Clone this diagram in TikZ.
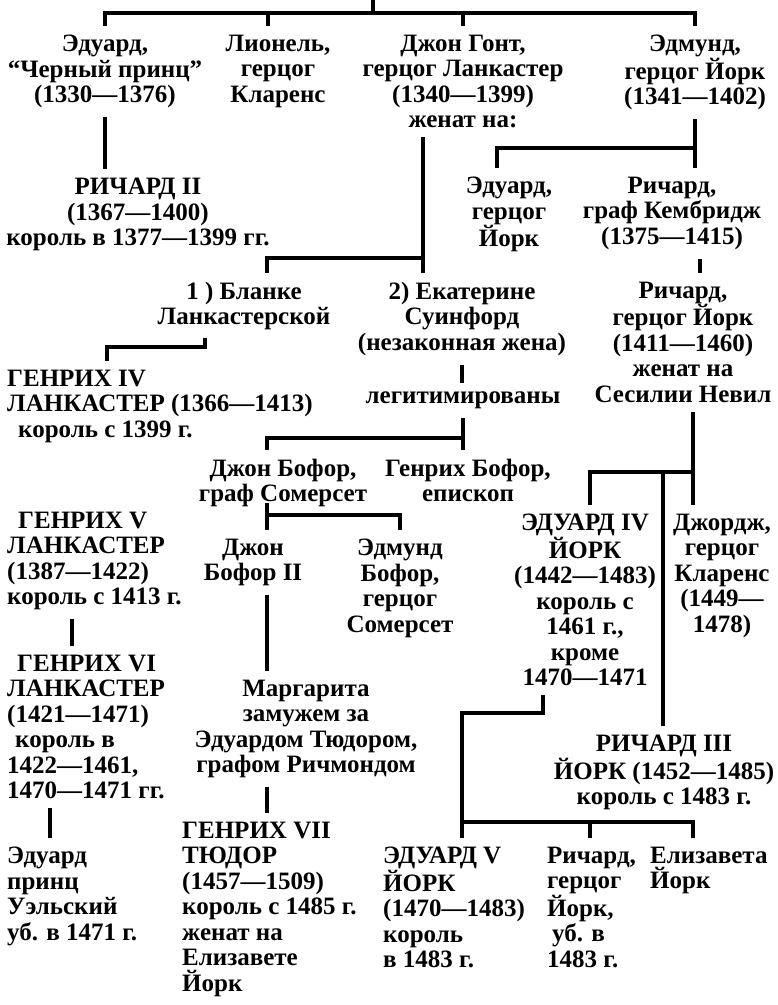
\documentclass[tikz,border=0pt]{standalone}
\usepackage{fontspec}
\setmainfont{Liberation Serif}
\begin{document}
\begin{tikzpicture}[x=1pt, y=-1pt,
    person/.style={inner sep=0pt, outer ysep=9pt, anchor=north, align=center,
        font=\fontsize{25}{25.5}\selectfont\bfseries},
    lperson/.style={person, anchor=north west, align=left},
    tree/.style={line width=3.2pt}]
    \useasboundingbox (0,0) rectangle (778,1005);

    \node[person] (edward) at (105, 26) {Эдуард,\\“Черный принц”\\(1330—1376)};
    \node[person] (lionel) at (278, 26) {Лионель,\\герцог\\Кларенс};
    \node[person] (gaunt) at (463, 26) {Джон Гонт,\\герцог Ланкастер\\(1340—1399)\\женат на:};
    \node[person] (edmund) at (695, 26) {Эдмунд,\\герцог Йорк\\(1341—1402)};
    \node[person] (richard2) at (138, 169) {РИЧАРД II\\(1367—1400)\\король в 1377—1399 гг.};
    \node[person] (edwardy) at (509, 168) {Эдуард,\\герцог\\Йорк};
    \node[person] (richcam) at (672, 168) {Ричард,\\граф Кембридж\\(1375—1415)};
    \node[person] (blanche) at (244, 273) {1 ) Бланке\\Ланкастерской};
    \node[person] (katherine) at (462, 273) {2) Екатерине\\Суинфорд\\(незаконная жена)};
    \node[person] (richyork) at (683, 273) {Ричард,\\герцог Йорк\\(1411—1460)\\женат на\\Сесилии Невил};
    \node[lperson] (henry4) at (7, 361) {ГЕНРИХ IV\\ЛАНКАСТЕР (1366—1413)\\\hspace*{11pt}король с 1399 г.};
    \node[person] (legit) at (463, 383) {легитимированы};
    \node[person] (johnbeaufort) at (283, 450) {Джон Бофор,\\граф Сомерсет};
    \node[person] (henrybeaufort) at (468, 450) {Генрих Бофор,\\епископ};
    \node[lperson] (henry5) at (7, 503) {\hspace*{11pt}ГЕНРИХ V\\ЛАНКАСТЕР\\(1387—1422)\\король с 1413 г.};
    \node[person] (edward4) at (585, 505) {ЭДУАРД IV\\ЙОРК\\(1442—1483)\\король с\\1461 г.,\\кроме\\1470—1471};
    \node[person] (george) at (722, 505) {Джордж,\\герцог\\Кларенс\\(1449—\\1478)};
    \node[person] (johnb2) at (253, 530) {Джон\\Бофор II};
    \node[person] (edmundb) at (400, 530) {Эдмунд\\Бофор,\\герцог\\Сомерсет};
    \node[lperson] (henry6) at (7, 646) {\hspace*{10pt}ГЕНРИХ VI\\ЛАНКАСТЕР\\(1421—1471)\\\hspace*{8pt}король в\\1422—1461,\\1470—1471 гг.};
    \node[person] (margaret) at (306, 671) {Маргарита\\замужем за\\Эдуардом Тюдором,\\графом Ричмондом};
    \node[person] (richard3) at (664, 726) {РИЧАРД III\\ЙОРК (1452—1485)\\король с 1483 г.};
    \node[lperson] (henry7) at (182, 813) {ГЕНРИХ VII\\ТЮДОР\\(1457—1509)\\король с 1485 г.\\женат на\\Елизавете\\Йорк};
    \node[lperson] (edwardprince) at (7, 838) {Эдуард\\принц\\Уэльский\\уб. в 1471 г.};
    \node[lperson] (edward5) at (383, 838) {ЭДУАРД V\\ЙОРК\\(1470—1483)\\король\\в 1483 г.};
    \node[lperson] (richshrew) at (547, 838) {Ричард,\\герцог\\Йорк,\\\hspace*{5pt}уб. в\\1483 г.};
    \node[lperson] (elizabeth) at (650, 838) {Елизавета\\Йорк};

    \coordinate (top) at (373, 0);
    \coordinate (bar1) at (373, 13);
    \coordinate (lio) at (268, 13);
    \draw[tree] (top) -- (bar1);
    \draw[tree] (edward.north) |- (bar1) -| (edmund.north);
    \draw[tree] (lio) -- (lio |- lionel.north);
    \draw[tree] (gaunt.north |- bar1) -- (gaunt.north);
    \draw[tree] (edward.south) -- (edward.south |- richard2.north);

    \coordinate (bar2) at (497, 148);
    \draw[tree] (edmund.south) -- (edmund.south |- richcam.north);
    \draw[tree] (bar2 |- edwardy.north) |- (edmund.south |- bar2);

    \coordinate (wives) at (423, 258);
    \coordinate (bar3) at (267, 258);
    \draw[tree] (wives |- gaunt.south) -- (wives |- katherine.north);
    \draw[tree] (bar3 |- blanche.north) |- (wives);

    \coordinate (bl) at (205, 338);
    \coordinate (bar4) at (107, 347);
    \draw[tree] (bl) |- (bar4) -- (bar4 |- henry4.north);

    \coordinate (rc) at (700, 0);
    \draw[tree] (rc |- richcam.south) -- (rc |- richyork.north);

    \draw[tree] (katherine.south) -- (katherine.south |- legit.north);
    \coordinate (bar5) at (267, 438);
    \draw[tree] (legit.south) -- (legit.south |- henrybeaufort.north);
    \draw[tree] (bar5 |- johnbeaufort.north) |- (legit.south |- bar5);

    \coordinate (jb) at (267, 503);
    \coordinate (bar6) at (267, 515);
    \draw[tree] (jb) -- (jb |- johnb2.north);
    \draw[tree] (bar6) -| (edmundb.north);
    \draw[tree] (jb |- johnb2.south) -- (jb |- margaret.north);
    \draw[tree] (jb |- margaret.south) -- (jb |- henry7.north);

    \coordinate (h5) at (72, 0);
    \draw[tree] (h5 |- henry5.south) -- (h5 |- henry6.north);
    \coordinate (h6) at (50, 0);
    \draw[tree] (h6 |- henry6.south) -- (h6 |- edwardprince.north);

    \coordinate (bar7) at (693, 472);
    \coordinate (e4t) at (590, 472);
    \coordinate (r3) at (663, 472);
    \draw[tree] (bar7 |- richyork.south) -- (bar7 |- george.north);
    \draw[tree] (e4t |- edward4.north) |- (bar7);
    \draw[tree] (r3) -- (r3 |- richard3.north);

    \coordinate (e4b) at (543, 713);
    \coordinate (bar8) at (462, 713);
    \coordinate (bar9) at (462, 822);
    \coordinate (rs) at (590, 822);
    \coordinate (ez) at (693, 822);
    \draw[tree] (e4b |- edward4.south) |- (bar8) -- (bar8 |- edward5.north);
    \draw[tree] (bar9) -| (ez |- elizabeth.north);
    \draw[tree] (rs) -- (rs |- richshrew.north);
\end{tikzpicture}
\end{document}
